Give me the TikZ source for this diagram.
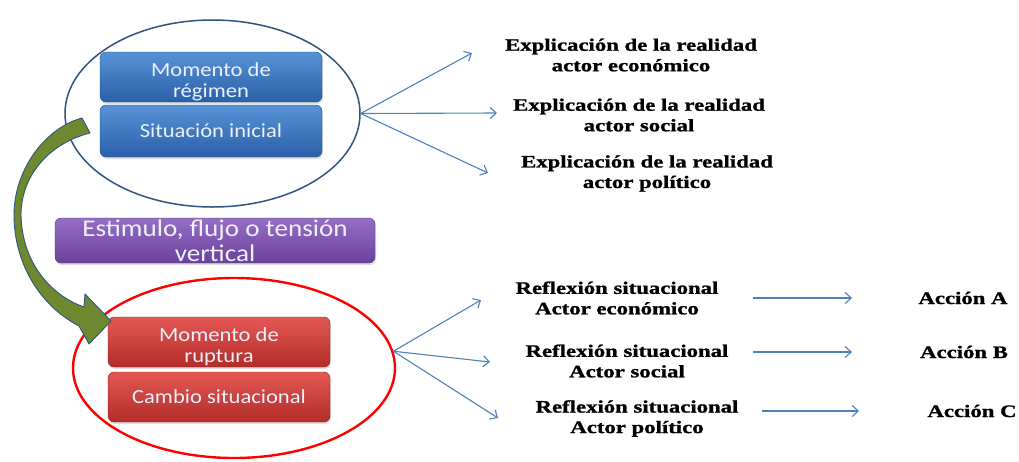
\documentclass[tikz,border=0pt]{standalone}
\usepackage{fontspec}
\newfontfamily\boxfont[FakeStretch=1.13]{Carlito}
\newfontfamily\txtfont[FakeStretch=1.3, BoldFeatures={FakeBold=1.2}]{Liberation Serif}
\usetikzlibrary{arrows.meta,shadows,shapes.geometric}
\definecolor{fanblue}{RGB}{79,129,189}
\definecolor{ellblue}{RGB}{47,84,128}
\definecolor{btop}{RGB}{88,146,214}
\definecolor{bbot}{RGB}{42,96,168}
\definecolor{rtop}{RGB}{228,88,84}
\definecolor{rbot}{RGB}{178,44,40}
\definecolor{ptop}{RGB}{150,110,196}
\definecolor{pbot}{RGB}{108,64,158}
\definecolor{olive}{RGB}{110,136,48}
\definecolor{boxtext}{RGB}{236,241,250}
\newcommand{\lowstrut}{\rule{0pt}{23pt}}
\tikzset{
  sbox/.style={rounded corners=6pt, inner sep=0pt, align=center, text=boxtext,
    font=\boxfont\fontsize{20}{21.5}\selectfont, minimum width=222pt,
    drop shadow={opacity=0.25, shadow xshift=1pt, shadow yshift=-2pt}},
  bluebox/.style={sbox, top color=btop, bottom color=bbot, draw=bbot!80!black, line width=0.4pt},
  redbox/.style={sbox, top color=rtop, bottom color=rbot, draw=rbot!80!black, line width=0.4pt},
  purplebox/.style={sbox, top color=ptop, bottom color=pbot, draw=pbot!80!black, line width=0.4pt,
    font=\boxfont\fontsize{24}{25}\selectfont},
  lbl/.style={align=center, inner sep=0pt, text=black,
    font=\txtfont\bfseries\fontsize{17.5}{20.5}\selectfont},
  fan/.style={draw=fanblue, line width=1.1pt, -{Straight Barb[length=6pt,width=11pt,line width=1.1pt]}},
}
\begin{document}
\begin{tikzpicture}[x=1pt,y=-1pt]
\useasboundingbox (0,0) rectangle (1019,461);
\fill[white] (0,0) rectangle (1019,461);

% ellipses
\node[ellipse, draw=ellblue, line width=1.5pt, minimum width=295pt, minimum height=187pt, inner sep=0pt] (topell) at (212.5,113.5) {};
\node[ellipse, draw=red, line width=2.4pt, minimum width=322pt, minimum height=180pt, inner sep=0pt] (redell) at (234,368) {};

% boxes
\node[bluebox, minimum height=50pt] (b1) at (211,77) {\lowstrut Momento de\\régimen};
\node[bluebox, minimum height=52pt] (b2) at (211,131) {Situación inicial};
\node[purplebox, minimum width=320pt, minimum height=45pt] (pb) at (215,240.5) {Estimulo, flujo o tensión\\vertical};
\node[redbox, minimum height=50pt] (r1box) at (219,342) {\lowstrut Momento de\\ruptura};
\node[redbox, minimum height=50pt] (r2box) at (219,397) {Cambio situacional};

% curved green arrow
\filldraw[fill=olive, draw=ellblue, line width=0.9pt, line join=round]
  (82,118) .. controls (45,128) and (14,170) .. (14,215)
  .. controls (14,260) and (37,304) .. (79,326)
  -- (89,344) -- (111,321) -- (85,294) -- (84,307)
  .. controls (50,295) and (22,262) .. (21,215)
  .. controls (21,175) and (50,143) .. (90,133) -- cycle;

% text labels
\node[lbl] (t1) at (631,55) {Explicación de la realidad\\actor económico};
\node[lbl] (t2) at (639,115) {Explicación de la realidad\\actor social};
\node[lbl] (t3) at (647,173.5) {Explicación de la realidad\\actor político};
\node[lbl] (s1) at (617,298) {Reflexión situacional\\Actor económico};
\node[lbl] (s2) at (627,361) {Reflexión situacional\\Actor social};
\node[lbl] (s3) at (637,418.5) {Reflexión situacional\\Actor político};
\node[lbl] (a1) at (963,298) {Acción A};
\node[lbl] (a2) at (964,352) {Acción B};
\node[lbl] (a3) at (972,411) {Acción C};

% arrow end points
\coordinate (te1) at (472,53);
\coordinate (te2) at (497,113);
\coordinate (te3) at (488,173);
\coordinate (be1) at (481,300);
\coordinate (be2) at (490,362);
\coordinate (be3) at (498,418);
\coordinate (h1s) at (753,298);
\coordinate (h1e) at (852,298);
\coordinate (h2s) at (753,352);
\coordinate (h2e) at (852,352);
\coordinate (h3s) at (762,411);
\coordinate (h3e) at (859,411);

% fans
\draw[fan] (topell.east) -- (te1);
\draw[fan] (topell.east) -- (te2);
\draw[fan] (topell.east) -- (te3);
\draw[fan] (redell.6) -- (be1);
\draw[fan] (redell.6) -- (be2);
\draw[fan] (redell.6) -- (be3);
\draw[fan] (h1s) -- (h1e);
\draw[fan] (h2s) -- (h2e);
\draw[fan] (h3s) -- (h3e);
\end{tikzpicture}
\end{document}
